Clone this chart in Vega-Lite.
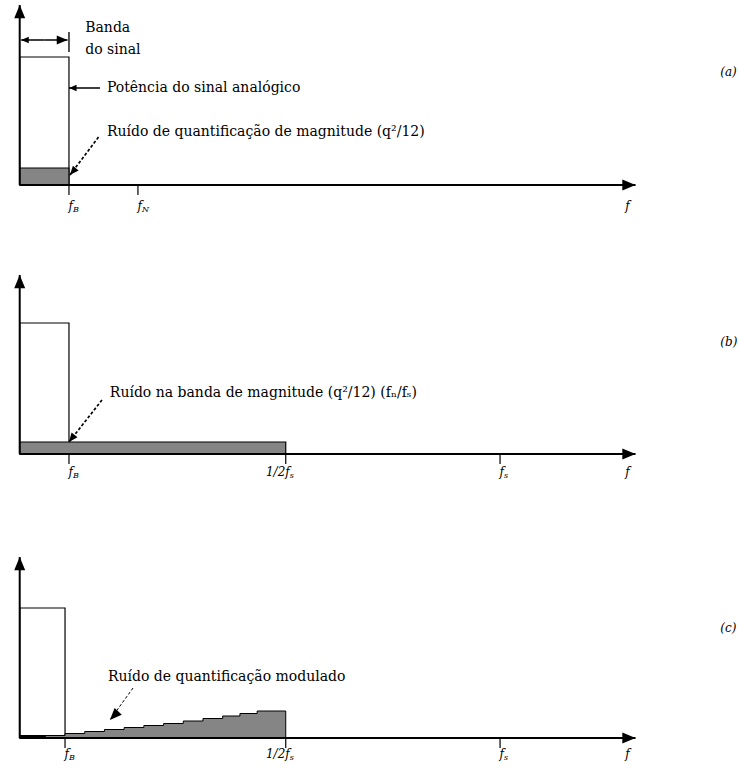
{
  "$schema": "https://vega.github.io/schema/vega-lite/v6.json",
  "padding": 0,
  "spacing": 0,
  "bounds": "flush",
  "background": "white",
  "config": {"view": {"stroke": null}, "axis": {"disable": true}},
  "datasets": {
    "shapes": [
      {"panel": "a", "kind": "signal", "x0": 0, "x1": 1, "y0": 0, "y1": 12.8},
      {"panel": "a", "kind": "noise", "x0": 0, "x1": 1, "y0": 0, "y1": 1.7},
      {"panel": "b", "kind": "signal", "x0": 0, "x1": 1, "y0": 0, "y1": 13.1},
      {"panel": "b", "kind": "noise", "x0": 0, "x1": 5.4, "y0": 0, "y1": 1.2},
      {"panel": "c", "kind": "signal", "x0": 0, "x1": 0.92, "y0": 0, "y1": 13.0},
      {"panel": "c", "kind": "floor", "x0": 0, "x1": 0.52, "y0": 0, "y1": 0.25}
    ],
    "ramp": [
      {"f": 0.52, "p": 0.25},
      {"f": 0.92, "p": 0.45},
      {"f": 1.32, "p": 0.65},
      {"f": 1.72, "p": 0.85},
      {"f": 2.12, "p": 1.05},
      {"f": 2.52, "p": 1.25},
      {"f": 2.92, "p": 1.45},
      {"f": 3.32, "p": 1.7},
      {"f": 3.72, "p": 1.95},
      {"f": 4.12, "p": 2.2},
      {"f": 4.47, "p": 2.45},
      {"f": 4.82, "p": 2.7},
      {"f": 5.4, "p": 2.7}
    ],
    "arrows": [
      {"panel": "a", "kind": "axis", "x0": 0, "y0": 0, "x1": 0, "y1": 18.0, "dir": "up", "line": "solid"},
      {"panel": "a", "kind": "axis", "x0": 0, "y0": 0, "x1": 12.5, "y1": 0, "dir": "right", "line": "solid"},
      {"panel": "a", "kind": "pointer", "x0": 0.5, "y0": 14.5, "x1": 0.03, "y1": 14.5, "dir": "left", "line": "solid"},
      {"panel": "a", "kind": "pointer", "x0": 0.5, "y0": 14.5, "x1": 0.97, "y1": 14.5, "dir": "right", "line": "solid"},
      {"panel": "a", "kind": "bar", "x0": 1, "y0": 13.3, "x1": 1, "y1": 15.3, "dir": "none", "line": "solid"},
      {"panel": "a", "kind": "pointer", "x0": 1.63, "y0": 9.7, "x1": 1.0, "y1": 9.7, "dir": "left", "line": "solid"},
      {"panel": "a", "kind": "pointer", "x0": 1.6, "y0": 4.8, "x1": 1.02, "y1": 1.0, "dir": "downleft", "line": "dashed"},
      {"panel": "b", "kind": "axis", "x0": 0, "y0": 0, "x1": 0, "y1": 17.9, "dir": "up", "line": "solid"},
      {"panel": "b", "kind": "axis", "x0": 0, "y0": 0, "x1": 12.5, "y1": 0, "dir": "right", "line": "solid"},
      {"panel": "b", "kind": "pointer", "x0": 1.67, "y0": 5.4, "x1": 1.0, "y1": 1.2, "dir": "downleft", "line": "dashed"},
      {"panel": "c", "kind": "axis", "x0": 0, "y0": 0, "x1": 0, "y1": 18.1, "dir": "up", "line": "solid"},
      {"panel": "c", "kind": "axis", "x0": 0, "y0": 0, "x1": 12.5, "y1": 0, "dir": "right", "line": "solid"},
      {"panel": "c", "kind": "pointerL", "x0": 2.3, "y0": 5.0, "x1": 1.83, "y1": 1.8, "dir": "downleft", "line": "dashed"}
    ],
    "ticks": [
      {"panel": "a", "f": 1, "main": "f", "sub": "B", "tick": true},
      {"panel": "a", "f": 2.4, "main": "f", "sub": "N", "tick": true},
      {"panel": "a", "f": 12.3, "main": "f", "sub": "", "tick": false},
      {"panel": "b", "f": 1, "main": "f", "sub": "B", "tick": true},
      {"panel": "b", "f": 5.4, "main": "1/2f", "sub": "s", "tick": true},
      {"panel": "b", "f": 9.75, "main": "f", "sub": "s", "tick": true},
      {"panel": "b", "f": 12.3, "main": "f", "sub": "", "tick": false},
      {"panel": "c", "f": 0.92, "main": "f", "sub": "B", "tick": true},
      {"panel": "c", "f": 5.4, "main": "1/2f", "sub": "s", "tick": true},
      {"panel": "c", "f": 9.75, "main": "f", "sub": "s", "tick": true},
      {"panel": "c", "f": 12.3, "main": "f", "sub": "", "tick": false}
    ],
    "notes": [
      {"panel": "a", "role": "note", "x": 1.33, "y": 15.7, "text": "Banda"},
      {"panel": "a", "role": "note", "x": 1.33, "y": 13.5, "text": "do sinal"},
      {"panel": "a", "role": "note", "x": 1.77, "y": 9.7, "text": "Potência do sinal analógico"},
      {"panel": "a", "role": "note", "x": 1.77, "y": 5.3, "text": "Ruído de quantificação de magnitude (q²/12)"},
      {"panel": "a", "role": "tag", "x": 14.22, "y": 11.3, "text": "(a)"},
      {"panel": "b", "role": "note", "x": 1.83, "y": 6.1, "text": "Ruído na banda de magnitude (q²/12) (fₙ/fₛ)"},
      {"panel": "b", "role": "tag", "x": 14.22, "y": 11.2, "text": "(b)"},
      {"panel": "c", "role": "note", "x": 1.79, "y": 6.1, "text": "Ruído de quantificação modulado"},
      {"panel": "c", "role": "tag", "x": 14.22, "y": 11.0, "text": "(c)"}
    ]
  },
  "vconcat": [
    {
      "width": 739,
      "height": 250,
      "layer": [
        {
          "data": {"name": "shapes"},
          "transform": [{"filter": "datum.panel === 'a'"}],
          "mark": {"type": "rect", "stroke": "black", "strokeWidth": 1.2},
          "encoding": {
            "x": {"field": "x0", "type": "quantitative", "scale": {"domain": [-0.4, 14.6], "nice": false, "zero": false}},
            "x2": {"field": "x1"},
            "y": {"field": "y0", "type": "quantitative", "scale": {"domain": [-6.5, 18.5], "nice": false, "zero": false}},
            "y2": {"field": "y1"},
            "fill": {"field": "kind", "type": "nominal", "scale": {"domain": ["signal", "noise", "floor"], "range": ["#ffffff", "#858585", "#000000"]}, "legend": null}
          }
        },
        {
          "data": {"name": "arrows"},
          "transform": [{"filter": "datum.panel === 'a'"}],
          "mark": {"type": "rule", "color": "black"},
          "encoding": {
            "x": {"field": "x0", "type": "quantitative"},
            "y": {"field": "y0", "type": "quantitative"},
            "x2": {"field": "x1"},
            "y2": {"field": "y1"},
            "strokeDash": {"field": "line", "type": "nominal", "scale": {"domain": ["solid", "dashed"], "range": [[1, 0], [3, 2]]}, "legend": null},
            "strokeWidth": {"field": "kind", "type": "nominal", "scale": {"domain": ["axis", "pointer", "bar", "pointerL"], "range": [2, 1, 1, 1]}, "legend": null}
          }
        },
        {
          "data": {"name": "arrows"},
          "transform": [{"filter": "datum.panel === 'a' && datum.dir === 'up'"}],
          "mark": {"type": "point", "shape": "M0,0L-0.5,1.2L0.5,1.2Z", "filled": true, "color": "black", "opacity": 1, "angle": 0, "size": 484},
          "encoding": {"x": {"field": "x1", "type": "quantitative"}, "y": {"field": "y1", "type": "quantitative"}}
        },
        {
          "data": {"name": "arrows"},
          "transform": [{"filter": "datum.panel === 'a' && datum.dir === 'right'"}],
          "mark": {"type": "point", "shape": "M0,0L-0.5,1.2L0.5,1.2Z", "filled": true, "color": "black", "opacity": 1, "angle": 90},
          "encoding": {
            "x": {"field": "x1", "type": "quantitative"},
            "y": {"field": "y1", "type": "quantitative"},
            "size": {"field": "kind", "type": "nominal", "scale": {"domain": ["axis", "pointer", "pointerL"], "range": [484, 160, 400]}, "legend": null}
          }
        },
        {
          "data": {"name": "arrows"},
          "transform": [{"filter": "datum.panel === 'a' && datum.dir === 'left'"}],
          "mark": {"type": "point", "shape": "M0,0L-0.5,1.2L0.5,1.2Z", "filled": true, "color": "black", "opacity": 1, "angle": 270, "size": 160},
          "encoding": {"x": {"field": "x1", "type": "quantitative"}, "y": {"field": "y1", "type": "quantitative"}}
        },
        {
          "data": {"name": "arrows"},
          "transform": [{"filter": "datum.panel === 'a' && datum.dir === 'downleft'"}],
          "mark": {"type": "point", "shape": "M0,0L-0.5,1.2L0.5,1.2Z", "filled": true, "color": "black", "opacity": 1, "angle": 220, "size": 225},
          "encoding": {"x": {"field": "x1", "type": "quantitative"}, "y": {"field": "y1", "type": "quantitative"}}
        },
        {
          "data": {"name": "ticks"},
          "transform": [{"filter": "datum.panel === 'a' && datum.tick"}],
          "mark": {"type": "rule", "color": "black", "strokeWidth": 1.2},
          "encoding": {
            "x": {"field": "f", "type": "quantitative"},
            "y": {"datum": 0},
            "y2": {"datum": -1.0}
          }
        },
        {
          "data": {"name": "ticks"},
          "transform": [{"filter": "datum.panel === 'a'"}],
          "mark": {"type": "text", "align": "right", "baseline": "middle", "dx": 4, "font": "DejaVu Serif", "fontStyle": "italic", "fontSize": 12, "color": "black"},
          "encoding": {
            "x": {"field": "f", "type": "quantitative"},
            "y": {"datum": -2.1},
            "text": {"field": "main"}
          }
        },
        {
          "data": {"name": "ticks"},
          "transform": [{"filter": "datum.panel === 'a'"}],
          "mark": {"type": "text", "align": "left", "baseline": "middle", "dx": 4, "dy": 4, "font": "DejaVu Serif", "fontStyle": "italic", "fontSize": 8, "color": "black"},
          "encoding": {
            "x": {"field": "f", "type": "quantitative"},
            "y": {"datum": -2.1},
            "text": {"field": "sub"}
          }
        },
        {
          "data": {"name": "notes"},
          "transform": [{"filter": "datum.panel === 'a' && datum.role === 'note'"}],
          "mark": {"type": "text", "align": "left", "baseline": "middle", "font": "DejaVu Serif", "fontSize": 14, "color": "black"},
          "encoding": {
            "x": {"field": "x", "type": "quantitative"},
            "y": {"field": "y", "type": "quantitative"},
            "text": {"field": "text"}
          }
        },
        {
          "data": {"name": "notes"},
          "transform": [{"filter": "datum.panel === 'a' && datum.role === 'tag'"}],
          "mark": {"type": "text", "align": "left", "baseline": "middle", "font": "DejaVu Serif", "fontStyle": "italic", "fontSize": 12, "color": "black"},
          "encoding": {
            "x": {"field": "x", "type": "quantitative"},
            "y": {"field": "y", "type": "quantitative"},
            "text": {"field": "text"}
          }
        }
      ]
    },
    {
      "width": 739,
      "height": 270,
      "layer": [
        {
          "data": {"name": "shapes"},
          "transform": [{"filter": "datum.panel === 'b'"}],
          "mark": {"type": "rect", "stroke": "black", "strokeWidth": 1.2},
          "encoding": {
            "x": {"field": "x0", "type": "quantitative", "scale": {"domain": [-0.4, 14.6], "nice": false, "zero": false}},
            "x2": {"field": "x1"},
            "y": {"field": "y0", "type": "quantitative", "scale": {"domain": [-6.6, 20.4], "nice": false, "zero": false}},
            "y2": {"field": "y1"},
            "fill": {"field": "kind", "type": "nominal", "scale": {"domain": ["signal", "noise", "floor"], "range": ["#ffffff", "#858585", "#000000"]}, "legend": null}
          }
        },
        {
          "data": {"name": "arrows"},
          "transform": [{"filter": "datum.panel === 'b'"}],
          "mark": {"type": "rule", "color": "black"},
          "encoding": {
            "x": {"field": "x0", "type": "quantitative"},
            "y": {"field": "y0", "type": "quantitative"},
            "x2": {"field": "x1"},
            "y2": {"field": "y1"},
            "strokeDash": {"field": "line", "type": "nominal", "scale": {"domain": ["solid", "dashed"], "range": [[1, 0], [3, 2]]}, "legend": null},
            "strokeWidth": {"field": "kind", "type": "nominal", "scale": {"domain": ["axis", "pointer", "bar", "pointerL"], "range": [2, 1, 1, 1]}, "legend": null}
          }
        },
        {
          "data": {"name": "arrows"},
          "transform": [{"filter": "datum.panel === 'b' && datum.dir === 'up'"}],
          "mark": {"type": "point", "shape": "M0,0L-0.5,1.2L0.5,1.2Z", "filled": true, "color": "black", "opacity": 1, "angle": 0, "size": 484},
          "encoding": {"x": {"field": "x1", "type": "quantitative"}, "y": {"field": "y1", "type": "quantitative"}}
        },
        {
          "data": {"name": "arrows"},
          "transform": [{"filter": "datum.panel === 'b' && datum.dir === 'right'"}],
          "mark": {"type": "point", "shape": "M0,0L-0.5,1.2L0.5,1.2Z", "filled": true, "color": "black", "opacity": 1, "angle": 90, "size": 484},
          "encoding": {"x": {"field": "x1", "type": "quantitative"}, "y": {"field": "y1", "type": "quantitative"}}
        },
        {
          "data": {"name": "arrows"},
          "transform": [{"filter": "datum.panel === 'b' && datum.dir === 'downleft'"}],
          "mark": {"type": "point", "shape": "M0,0L-0.5,1.2L0.5,1.2Z", "filled": true, "color": "black", "opacity": 1, "angle": 218, "size": 225},
          "encoding": {"x": {"field": "x1", "type": "quantitative"}, "y": {"field": "y1", "type": "quantitative"}}
        },
        {
          "data": {"name": "ticks"},
          "transform": [{"filter": "datum.panel === 'b' && datum.tick"}],
          "mark": {"type": "rule", "color": "black", "strokeWidth": 1.2},
          "encoding": {
            "x": {"field": "f", "type": "quantitative"},
            "y": {"datum": 0},
            "y2": {"datum": -1.0}
          }
        },
        {
          "data": {"name": "ticks"},
          "transform": [{"filter": "datum.panel === 'b'"}],
          "mark": {"type": "text", "align": "right", "baseline": "middle", "dx": 4, "font": "DejaVu Serif", "fontStyle": "italic", "fontSize": 12, "color": "black"},
          "encoding": {
            "x": {"field": "f", "type": "quantitative"},
            "y": {"datum": -1.8},
            "text": {"field": "main"}
          }
        },
        {
          "data": {"name": "ticks"},
          "transform": [{"filter": "datum.panel === 'b'"}],
          "mark": {"type": "text", "align": "left", "baseline": "middle", "dx": 4, "dy": 4, "font": "DejaVu Serif", "fontStyle": "italic", "fontSize": 8, "color": "black"},
          "encoding": {
            "x": {"field": "f", "type": "quantitative"},
            "y": {"datum": -1.8},
            "text": {"field": "sub"}
          }
        },
        {
          "data": {"name": "notes"},
          "transform": [{"filter": "datum.panel === 'b' && datum.role === 'note'"}],
          "mark": {"type": "text", "align": "left", "baseline": "middle", "font": "DejaVu Serif", "fontSize": 14, "color": "black"},
          "encoding": {
            "x": {"field": "x", "type": "quantitative"},
            "y": {"field": "y", "type": "quantitative"},
            "text": {"field": "text"}
          }
        },
        {
          "data": {"name": "notes"},
          "transform": [{"filter": "datum.panel === 'b' && datum.role === 'tag'"}],
          "mark": {"type": "text", "align": "left", "baseline": "middle", "font": "DejaVu Serif", "fontStyle": "italic", "fontSize": 12, "color": "black"},
          "encoding": {
            "x": {"field": "x", "type": "quantitative"},
            "y": {"field": "y", "type": "quantitative"},
            "text": {"field": "text"}
          }
        }
      ]
    },
    {
      "width": 739,
      "height": 249,
      "layer": [
        {
          "data": {"name": "shapes"},
          "transform": [{"filter": "datum.panel === 'c'"}],
          "mark": {"type": "rect", "stroke": "black", "strokeWidth": 1.2},
          "encoding": {
            "x": {"field": "x0", "type": "quantitative", "scale": {"domain": [-0.4, 14.6], "nice": false, "zero": false}},
            "x2": {"field": "x1"},
            "y": {"field": "y0", "type": "quantitative", "scale": {"domain": [-3.1, 21.8], "nice": false, "zero": false}},
            "y2": {"field": "y1"},
            "fill": {"field": "kind", "type": "nominal", "scale": {"domain": ["signal", "noise", "floor"], "range": ["#ffffff", "#858585", "#000000"]}, "legend": null}
          }
        },
        {
          "data": {"name": "ramp"},
          "mark": {"type": "area", "interpolate": "step-after", "fill": "#858585", "stroke": "black", "strokeWidth": 1, "opacity": 1},
          "encoding": {
            "x": {"field": "f", "type": "quantitative"},
            "y": {"field": "p", "type": "quantitative"}
          }
        },
        {
          "data": {"name": "arrows"},
          "transform": [{"filter": "datum.panel === 'c'"}],
          "mark": {"type": "rule", "color": "black"},
          "encoding": {
            "x": {"field": "x0", "type": "quantitative"},
            "y": {"field": "y0", "type": "quantitative"},
            "x2": {"field": "x1"},
            "y2": {"field": "y1"},
            "strokeDash": {"field": "line", "type": "nominal", "scale": {"domain": ["solid", "dashed"], "range": [[1, 0], [3, 2]]}, "legend": null},
            "strokeWidth": {"field": "kind", "type": "nominal", "scale": {"domain": ["axis", "pointer", "bar", "pointerL"], "range": [2, 1, 1, 1]}, "legend": null}
          }
        },
        {
          "data": {"name": "arrows"},
          "transform": [{"filter": "datum.panel === 'c' && datum.dir === 'up'"}],
          "mark": {"type": "point", "shape": "M0,0L-0.5,1.2L0.5,1.2Z", "filled": true, "color": "black", "opacity": 1, "angle": 0, "size": 484},
          "encoding": {"x": {"field": "x1", "type": "quantitative"}, "y": {"field": "y1", "type": "quantitative"}}
        },
        {
          "data": {"name": "arrows"},
          "transform": [{"filter": "datum.panel === 'c' && datum.dir === 'right'"}],
          "mark": {"type": "point", "shape": "M0,0L-0.5,1.2L0.5,1.2Z", "filled": true, "color": "black", "opacity": 1, "angle": 90, "size": 484},
          "encoding": {"x": {"field": "x1", "type": "quantitative"}, "y": {"field": "y1", "type": "quantitative"}}
        },
        {
          "data": {"name": "arrows"},
          "transform": [{"filter": "datum.panel === 'c' && datum.dir === 'downleft'"}],
          "mark": {"type": "point", "shape": "M0,0L-0.5,1.2L0.5,1.2Z", "filled": true, "color": "black", "opacity": 1, "angle": 224, "size": 400},
          "encoding": {"x": {"field": "x1", "type": "quantitative"}, "y": {"field": "y1", "type": "quantitative"}}
        },
        {
          "data": {"name": "ticks"},
          "transform": [{"filter": "datum.panel === 'c' && datum.tick"}],
          "mark": {"type": "rule", "color": "black", "strokeWidth": 1.2},
          "encoding": {
            "x": {"field": "f", "type": "quantitative"},
            "y": {"datum": 0},
            "y2": {"datum": -1.0}
          }
        },
        {
          "data": {"name": "ticks"},
          "transform": [{"filter": "datum.panel === 'c'"}],
          "mark": {"type": "text", "align": "right", "baseline": "middle", "dx": 4, "font": "DejaVu Serif", "fontStyle": "italic", "fontSize": 12, "color": "black"},
          "encoding": {
            "x": {"field": "f", "type": "quantitative"},
            "y": {"datum": -1.6},
            "text": {"field": "main"}
          }
        },
        {
          "data": {"name": "ticks"},
          "transform": [{"filter": "datum.panel === 'c'"}],
          "mark": {"type": "text", "align": "left", "baseline": "middle", "dx": 4, "dy": 4, "font": "DejaVu Serif", "fontStyle": "italic", "fontSize": 8, "color": "black"},
          "encoding": {
            "x": {"field": "f", "type": "quantitative"},
            "y": {"datum": -1.6},
            "text": {"field": "sub"}
          }
        },
        {
          "data": {"name": "notes"},
          "transform": [{"filter": "datum.panel === 'c' && datum.role === 'note'"}],
          "mark": {"type": "text", "align": "left", "baseline": "middle", "font": "DejaVu Serif", "fontSize": 14, "color": "black"},
          "encoding": {
            "x": {"field": "x", "type": "quantitative"},
            "y": {"field": "y", "type": "quantitative"},
            "text": {"field": "text"}
          }
        },
        {
          "data": {"name": "notes"},
          "transform": [{"filter": "datum.panel === 'c' && datum.role === 'tag'"}],
          "mark": {"type": "text", "align": "left", "baseline": "middle", "font": "DejaVu Serif", "fontStyle": "italic", "fontSize": 12, "color": "black"},
          "encoding": {
            "x": {"field": "x", "type": "quantitative"},
            "y": {"field": "y", "type": "quantitative"},
            "text": {"field": "text"}
          }
        }
      ]
    }
  ]
}
